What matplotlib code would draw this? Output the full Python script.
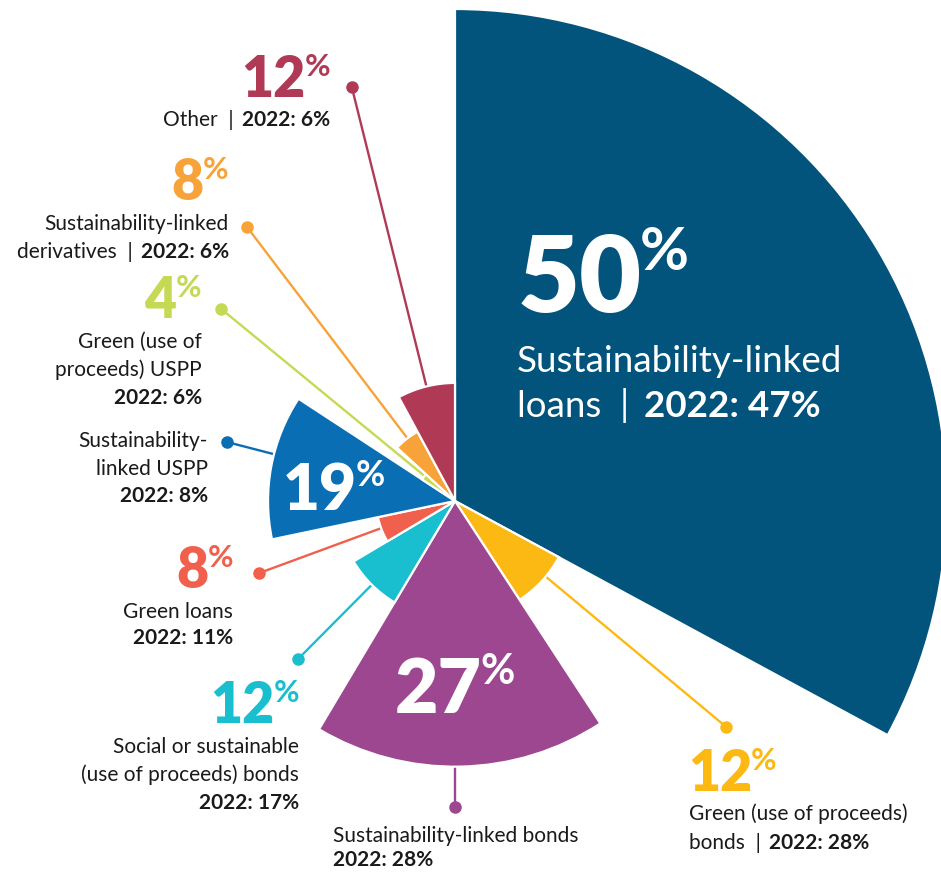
import numpy as np
import matplotlib
matplotlib.use("Agg")
import matplotlib.pyplot as plt

# ---- data -------------------------------------------------------------
categories = [
    "Sustainability-linked loans",
    "Green (use of proceeds) bonds",
    "Sustainability-linked bonds",
    "Social or sustainable (use of proceeds) bonds",
    "Green loans",
    "Sustainability-linked USPP",
    "Green (use of proceeds) USPP",
    "Sustainability-linked derivatives",
    "Other",
]
share_2023 = [50, 12, 27, 12, 8, 19, 4, 8, 12]
share_2022 = [47, 28, 28, 17, 11, 8, 6, 6, 6]
colors = ["#02547D", "#FDB913", "#9C4790", "#1ABFCF", "#F0604C",
          "#0A6EB5", "#C6D955", "#F7A33A", "#B03A55"]

# label wording, line by line; the 2022 figure is either appended
# after a bar ("inline") or set on its own line ("own")
label_lines = [
    ["Sustainability-linked", "loans"],
    ["Green (use of proceeds)", "bonds"],
    ["Sustainability-linked bonds"],
    ["Social or sustainable", "(use of proceeds) bonds"],
    ["Green loans"],
    ["Sustainability-", "linked USPP"],
    ["Green (use of", "proceeds) USPP"],
    ["Sustainability-linked", "derivatives"],
    ["Other"],
]
prior_mode = ["inline", "inline", "own", "own", "own", "own", "own", "inline", "inline"]

# ---- layout (figure pixels, origin top-left) --------------------------
W, H = 941, 872
CX, CY = 455, 501          # centre of the rose
R_PX = 492                 # pixel radius of the outer scale limit
R_MAX = 50

# leader lines: bearing (deg, clockwise from north) and end radius
leader_angle = [None, 129.8, 180.0, 224.8, 249.8, 284.5, 309.4, 322.8, 346.0]
leader_end = [None, 35.9, 31.1, 22.6, 21.2, 23.9, 30.8, 34.9, 43.35]

# big-number placement: (x, baseline, size pt, anchor, colour)
num_pos = [
    (518, 312, 77, "left", "white"),
    (688, 791, 40, "left", None),
    (395, 713, 54, "left", "white"),
    (299, 723, 40, "right", None),
    (233, 588, 40, "right", None),
    (283, 510, 46, "left", "white"),
    (201, 318, 40, "right", None),
    (228, 200, 40, "right", None),
    (330, 97, 40, "right", None),
]
# label block placement: (x, first baseline, line step, ha, size, colour)
lab_pos = [
    (517, 372, 45, "left", 26.5, "white"),
    (689, 820, 28.5, "left", 15, "#1a1a1a"),
    (333, 842, 23.5, "left", 15, "#1a1a1a"),
    (299, 753, 28, "right", 15, "#1a1a1a"),
    (233, 618, 26, "right", 15, "#1a1a1a"),
    (208, 447, 27.5, "right", 15, "#1a1a1a"),
    (202, 348, 28, "right", 15, "#1a1a1a"),
    (229, 230, 28, "right", 15, "#1a1a1a"),
    (330, 126, 28, "right", 15, "#1a1a1a"),
]

FONT = "Lato"

fig = plt.figure(figsize=(W / 100, H / 100), dpi=100, facecolor="white")

# ---- rose (polar bars: angle and radius both scale with the share) ----
pax = fig.add_axes([(CX - R_PX) / W, (H - CY - R_PX) / H,
                    2 * R_PX / W, 2 * R_PX / H], projection="polar")
pax.set_theta_zero_location("N")
pax.set_theta_direction(-1)
pax.set_ylim(0, R_MAX)
pax.axis("off")
pax.patch.set_alpha(0)

vals = np.array(share_2023, dtype=float)
widths = vals / vals.sum() * 2 * np.pi
starts = np.concatenate([[0], np.cumsum(widths)[:-1]])

for i, (a, r) in enumerate(zip(leader_angle, leader_end)):
    if a is None:
        continue
    th = np.deg2rad(a)
    pax.plot([th, th], [0, r], color=colors[i], lw=1.7, zorder=1,
             solid_capstyle="butt", clip_on=False)
    pax.plot([th], [r], "o", color=colors[i], ms=8, zorder=1, clip_on=False)

bars = pax.bar(starts, vals, width=widths, bottom=0, align="edge",
               color=colors, edgecolor="white", linewidth=1.6, zorder=2)
for b in bars:
    b.set_clip_on(False)

# ---- text overlay in pixel coordinates --------------------------------
ax = fig.add_axes([0, 0, 1, 1])
ax.set_xlim(0, W)
ax.set_ylim(H, 0)
ax.axis("off")
ax.patch.set_alpha(0)


def big_pct(x, base, value, size, anchor, color):
    size_px = size * 100 / 72
    top = base - 0.80 * size_px      # keeps the % level with the digit tops
    psize = size * 0.56
    if anchor == "left":
        num = ax.text(x, base, str(value), ha="left", va="baseline",
                      fontsize=size, fontweight="heavy", family=FONT, color=color)
        ax.annotate("%", xy=(1, top), xycoords=(num, "data"),
                    xytext=(-size * 0.02, 0), textcoords="offset points",
                    ha="left", va="top", fontsize=psize, fontweight="bold",
                    family=FONT, color=color)
    else:
        pct = ax.text(x, top, "%", ha="right", va="top", fontsize=psize,
                      fontweight="bold", family=FONT, color=color)
        ax.annotate(str(value), xy=(0, base), xycoords=(pct, "data"),
                    xytext=(size * 0.02, 0), textcoords="offset points",
                    ha="right", va="baseline", fontsize=size,
                    fontweight="heavy", family=FONT, color=color)


def mixed_line(x, base, regular, bold, ha, size, color):
    kw = dict(va="baseline", fontsize=size, family=FONT, color=color)
    if ha == "left":
        reg = ax.text(x, base, regular + "  |", ha="left", **kw)
        ax.annotate(bold, xy=(1, base), xycoords=(reg, "data"),
                    xytext=(size * 0.4, 0), textcoords="offset points",
                    ha="left", fontweight="bold", **kw)
    else:
        bt = ax.text(x, base, bold, ha="right", fontweight="bold", **kw)
        ax.annotate(regular + "  |", xy=(0, base), xycoords=(bt, "data"),
                    xytext=(-size * 0.4, 0), textcoords="offset points",
                    ha="right", **kw)


for i in range(len(categories)):
    x, base, size, anchor, ncol = num_pos[i]
    big_pct(x, base, share_2023[i], size, anchor, ncol or colors[i])

    lx, lb, step, ha, fs, tcol = lab_pos[i]
    prior = f"2022: {share_2022[i]}%"
    lines = label_lines[i]
    for k, line in enumerate(lines):
        y = lb + k * step
        last = k == len(lines) - 1
        if last and prior_mode[i] == "inline":
            mixed_line(lx, y, line, prior, ha, fs, tcol)
        else:
            ax.text(lx, y, line, ha=ha, va="baseline", fontsize=fs,
                    family=FONT, color=tcol)
    if prior_mode[i] == "own":
        ax.text(lx, lb + len(lines) * step, prior, ha=ha, va="baseline",
                fontsize=fs, fontweight="bold", family=FONT, color=tcol)

fig.savefig("out.png", dpi=100, facecolor="white")
